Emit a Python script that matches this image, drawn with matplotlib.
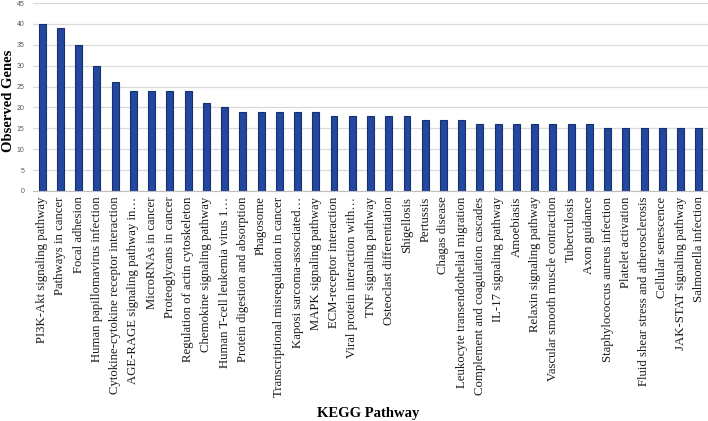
import matplotlib
matplotlib.use("Agg")
import matplotlib.pyplot as plt
import numpy as np

pathways = [
    "PI3K-Akt signaling pathway",
    "Pathways in cancer",
    "Focal adhesion",
    "Human papillomavirus infection",
    "Cytokine-cytokine receptor interaction",
    "AGE-RAGE signaling pathway in…",
    "MicroRNAs in cancer",
    "Proteoglycans in cancer",
    "Regulation of actin cytoskeleton",
    "Chemokine signaling pathway",
    "Human T-cell leukemia virus 1…",
    "Protein digestion and absorption",
    "Phagosome",
    "Transcriptional misregulation in cancer",
    "Kaposi sarcoma-associated…",
    "MAPK signaling pathway",
    "ECM-receptor interaction",
    "Viral protein interaction with…",
    "TNF signaling pathway",
    "Osteoclast differentiation",
    "Shigellosis",
    "Pertussis",
    "Chagas disease",
    "Leukocyte transendothelial migration",
    "Complement and coagulation cascades",
    "IL-17 signaling pathway",
    "Amoebiasis",
    "Relaxin signaling pathway",
    "Vascular smooth muscle contraction",
    "Tuberculosis",
    "Axon guidance",
    "Staphylococcus aureus infection",
    "Platelet activation",
    "Fluid shear stress and atherosclerosis",
    "Cellular senescence",
    "JAK-STAT signaling pathway",
    "Salmonella infection",
]
genes = [40, 39, 35, 30, 26, 24, 24, 24, 24, 21, 20, 19, 19, 19, 19, 19,
         18, 18, 18, 18, 18, 17, 17, 17, 16, 16, 16, 16, 16, 16, 16,
         15, 15, 15, 15, 15, 15]
yticks = list(range(0, 50, 5))

fig = plt.figure(figsize=(7.08, 4.21), dpi=100)
ax = fig.add_axes([33 / 708, 1 - 191 / 421, 675 / 708, 188 / 421])

x = np.arange(len(pathways))
ax.bar(x, genes, width=0.38, color="#24479e", edgecolor="#15306e", linewidth=0.8, zorder=3)

ax.set_xlim(-0.5, len(pathways) - 0.5)
ax.set_ylim(0, 45)
ax.set_yticks(yticks)
ax.set_yticklabels([str(t) for t in yticks], fontsize=5, color="#595959",
                   family="Liberation Sans")
ax.set_xticks(x)
ax.set_xticklabels(pathways, rotation=90, ha="center", va="top",
                   fontsize=9.2, family="Liberation Serif", color="#1a1a1a")
ax.tick_params(axis="x", length=0, pad=4)
ax.tick_params(axis="y", length=0, pad=6)

ax.grid(axis="y", color="#d9d9d9", linewidth=0.9, zorder=0)
for s in ["top", "right", "left"]:
    ax.spines[s].set_visible(False)
ax.spines["bottom"].set_color("#bfbfbf")
ax.spines["bottom"].set_zorder(4)

fig.text(9 / 708, 1 - 101 / 421, "Observed Genes", rotation=90, ha="center", va="center",
         fontsize=10.5, fontweight="bold", family="Liberation Serif")
fig.text(368 / 708, 1 - 413 / 421, "KEGG Pathway", ha="center", va="center",
         fontsize=10.5, fontweight="bold", family="Liberation Serif")

fig.savefig("out.png", dpi=100)
